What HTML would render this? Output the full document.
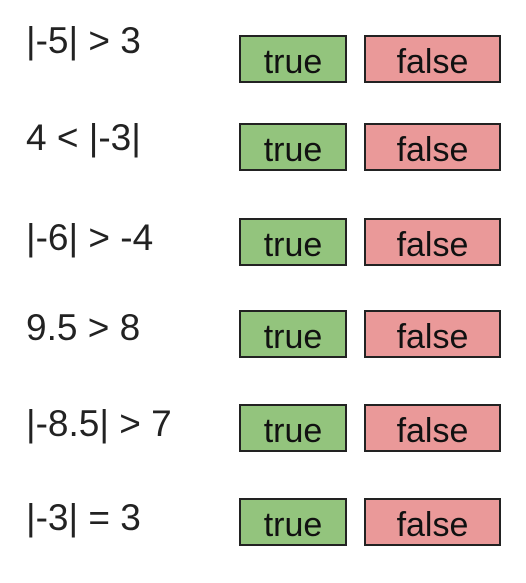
<!DOCTYPE html>
<html><head><style>
body{margin:0;width:526px;height:583px;background:#fff;position:relative;font-family:"Liberation Sans",Arial,sans-serif;overflow:hidden}
.l{position:absolute;left:26px;font-size:37px;line-height:1;color:#222}
.b{position:absolute;height:44px;border:2px solid #222;box-sizing:content-box;font-size:34px;color:#111;text-align:center;line-height:50px;overflow:hidden}
.t{left:239px;width:104px;background:#93c47d}
.f{left:364px;width:133px;background:#ea9999}
</style></head><body>
<div class="l" style="top:22px">|-5| &gt; 3</div>
<div class="b t" style="top:35px">true</div><div class="b f" style="top:35px">false</div>
<div class="l" style="top:119px">4 &lt; |-3|</div>
<div class="b t" style="top:123px">true</div><div class="b f" style="top:123px">false</div>
<div class="l" style="top:219px">|-6| &gt; -4</div>
<div class="b t" style="top:218px">true</div><div class="b f" style="top:218px">false</div>
<div class="l" style="top:309px">9.5 &gt; 8</div>
<div class="b t" style="top:310px">true</div><div class="b f" style="top:310px">false</div>
<div class="l" style="top:405px">|-8.5| &gt; 7</div>
<div class="b t" style="top:404px">true</div><div class="b f" style="top:404px">false</div>
<div class="l" style="top:499px">|-3| = 3</div>
<div class="b t" style="top:498px">true</div><div class="b f" style="top:498px">false</div>
</body></html>
